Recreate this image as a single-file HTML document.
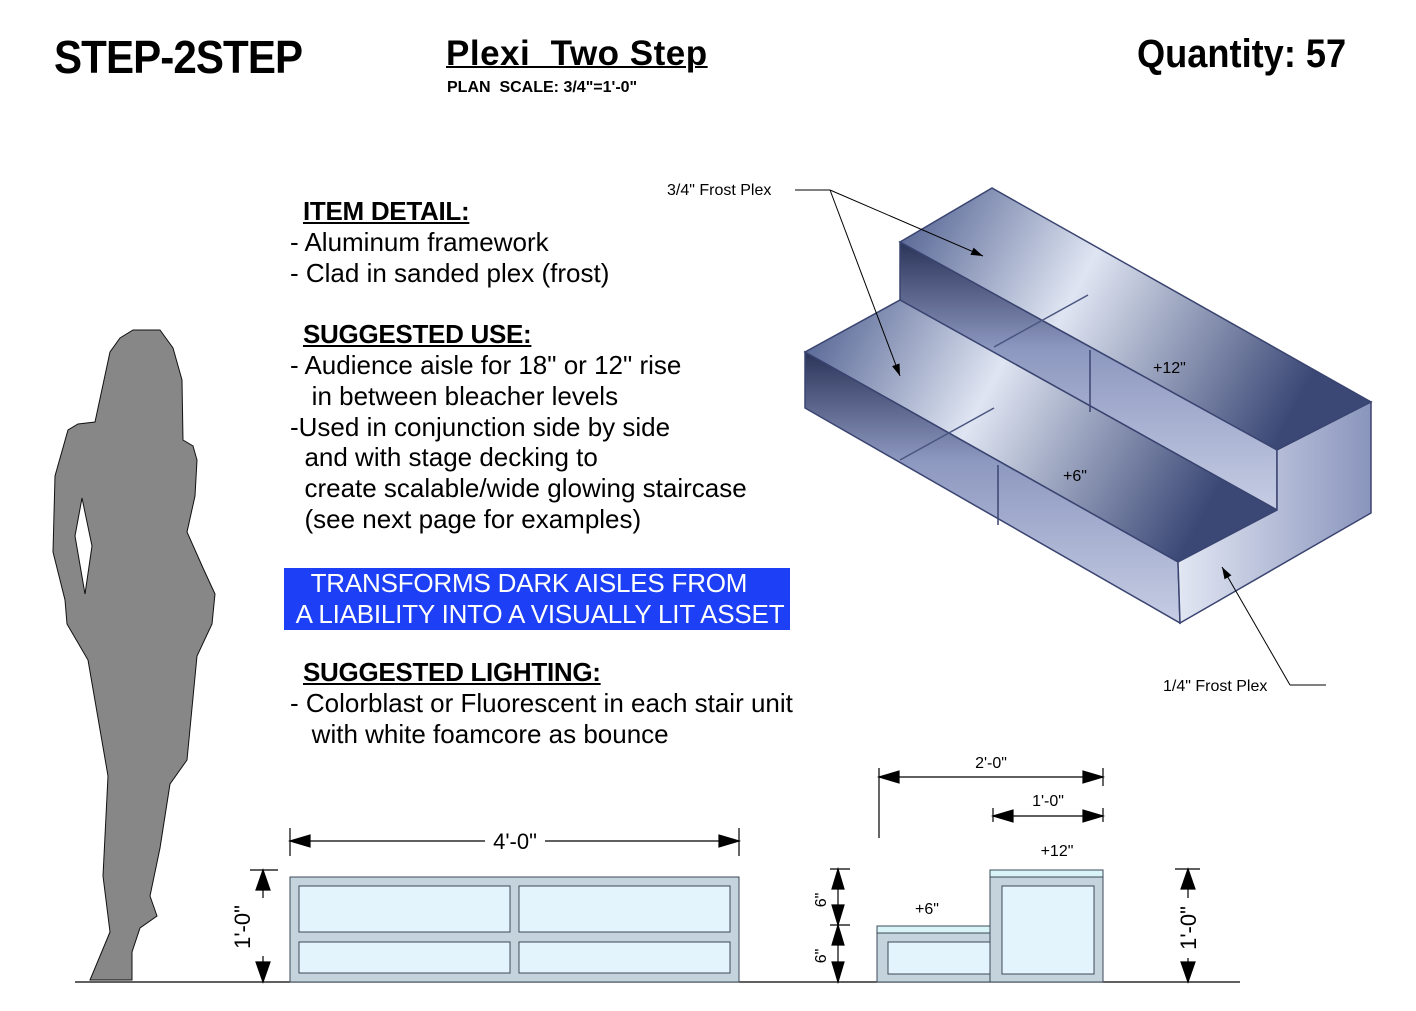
<!DOCTYPE html>
<html><head><meta charset="utf-8"><style>
body{margin:0;width:1416px;height:1011px;background:#fff;overflow:hidden;position:relative;font-family:"Liberation Sans",sans-serif}
.t{position:absolute;white-space:pre;color:#000}
.n{font-family:"Liberation Sans Narrow","Liberation Sans",sans-serif;font-weight:bold}
.b{font-size:26px;line-height:30.8px}
.u{font-weight:bold;text-decoration:underline;margin-left:13px;letter-spacing:-0.3px}
</style></head><body>
<div class="t n" style="left:54px;top:30px;font-size:46px;letter-spacing:-1px;transform:scaleX(0.915);transform-origin:left">STEP-2STEP</div>
<div class="t n" style="left:446px;top:34px;font-size:35px;letter-spacing:0.5px;text-decoration:underline;text-decoration-thickness:2px">Plexi  Two Step</div>
<div class="t n" style="left:447px;top:79px;font-size:16px">PLAN  SCALE: 3/4"=1'-0"</div>
<div class="t n" style="left:1137px;top:32px;font-size:40px;transform:scaleX(0.905);transform-origin:left">Quantity: 57</div>

<div class="t b" style="left:290px;top:196px"><span class="u">ITEM DETAIL:</span>
- Aluminum framework
- Clad in sanded plex (frost)

<span class="u">SUGGESTED USE:</span>
- Audience aisle for 18" or 12" rise
   in between bleacher levels
-Used in conjunction side by side
  and with stage decking to
  create scalable/wide glowing staircase
  (see next page for examples)</div>
<div class="t" style="left:284px;top:568px;width:506px;height:62px;background:#1d3ff5"></div>
<div class="t b" style="left:290px;top:568px;color:#fff;letter-spacing:-0.2px">   TRANSFORMS DARK AISLES FROM
 A LIABILITY INTO A VISUALLY LIT ASSET</div>
<div class="t b" style="left:290px;top:657px"><span class="u">SUGGESTED LIGHTING:</span>
- Colorblast or Fluorescent in each stair unit
   with white foamcore as bounce</div>

<svg width="1416" height="1011" style="position:absolute;left:0;top:0" font-family="Liberation Sans, sans-serif">
<defs>
<linearGradient id="g1" x1="0" y1="0" x2="1" y2="0.3"><stop offset="0" stop-color="#4a5a8c"/><stop offset="0.45" stop-color="#dfe5f2"/><stop offset="1" stop-color="#3b4876"/></linearGradient>
<linearGradient id="g2" x1="0" y1="0" x2="0" y2="1"><stop offset="0" stop-color="#2a3358"/><stop offset="0.4" stop-color="#8d98c0"/><stop offset="1" stop-color="#c6cde4"/></linearGradient>
<linearGradient id="g3" x1="0" y1="0" x2="1" y2="0"><stop offset="0" stop-color="#e2e7f3"/><stop offset="1" stop-color="#8a95bd"/></linearGradient>
<marker id="a" markerWidth="12" markerHeight="8" refX="12" refY="4" orient="auto" markerUnits="userSpaceOnUse"><path d="M0,0 L12,4 L0,8z"/></marker>
</defs>
<path d="M133,330 L160,330 L173,348 L182,380 L183,440 L193,446 L197,460 L195,496 L187,532 L203,568 L215,594 L212,624 L197,656 L187,760 L170,784 L160,848 L150,896 L157,916 L140,928 L132,952 L132,980 L90,980 L110,932 L103,876 L108,776 L88,660 L67,624 L65,600 L53,552 L55,476 L68,430 L78,424 L95,422 L110,352 L120,338Z M82,498 L92,546 L85,594 L75,536Z" fill="#878787" fill-rule="evenodd" stroke="#111" stroke-width="1"/>
<line x1="75" y1="982" x2="1240" y2="982" stroke="#000" stroke-width="1.2"/>
<g stroke="#3a4470" stroke-width="1.5">
<polygon points="900,242 992,188 1371,402 1277,450" fill="url(#g1)"/>
<polygon points="900,242 1277,450 1277,510 900,300" fill="url(#g2)"/>
<polygon points="805,352 900,300 1277,510 1178,562" fill="url(#g1)"/>
<polygon points="805,352 1178,562 1180,623 805,408" fill="url(#g2)"/>
<polygon points="1178,562 1277,510 1277,450 1371,402 1371,513 1180,623" fill="url(#g3)"/>
<line x1="1088" y1="295" x2="994" y2="347" stroke="#4a5580"/>
<line x1="1090" y1="350" x2="1090" y2="412"/>
<line x1="994" y1="408" x2="900" y2="460" stroke="#4a5580"/>
<line x1="998" y1="465" x2="998" y2="525"/>
</g>
<text x="1153" y="373" font-size="16">+12"</text>
<text x="1063" y="481" font-size="16">+6"</text>
<text x="667" y="195" font-size="16">3/4" Frost Plex</text>
<polyline points="795,190 830,190" fill="none" stroke="#000"/>
<line x1="830" y1="190" x2="983" y2="256" stroke="#000" marker-end="url(#a)"/>
<line x1="830" y1="190" x2="900" y2="376" stroke="#000" marker-end="url(#a)"/>
<text x="1163" y="691" font-size="16">1/4" Frost Plex</text>
<line x1="1290" y1="685" x2="1326" y2="685" stroke="#000"/>
<line x1="1290" y1="685" x2="1222" y2="567" stroke="#000" marker-end="url(#a)"/>
<g stroke="#3c4a58" stroke-width="1">
<rect x="290" y="877" width="449" height="105" fill="#c5d3dd"/>
<rect x="299" y="886" width="211" height="46" fill="#e3f4fc"/>
<rect x="519" y="886" width="211" height="46" fill="#e3f4fc"/>
<rect x="299" y="942" width="211" height="31" fill="#e3f4fc"/>
<rect x="519" y="942" width="211" height="31" fill="#e3f4fc"/>
</g>
<g stroke="#000" stroke-width="1.2">
<line x1="290" y1="828" x2="290" y2="856"/><line x1="739" y1="828" x2="739" y2="856"/>
<line x1="290" y1="841" x2="485" y2="841"/>
<line x1="545" y1="841" x2="739" y2="841"/>
<polygon points="290,841 310,835 310,847" fill="#000"/><polygon points="739,841 719,835 719,847" fill="#000"/>
</g>
<text x="515" y="849" font-size="22" text-anchor="middle">4'-0"</text>
<g stroke="#000" stroke-width="1.2">
<line x1="250" y1="870" x2="278" y2="870"/>
<line x1="263" y1="870" x2="263" y2="982"/>
<polygon points="263,870 256,890 270,890" fill="#000"/>
<polygon points="263,982 256,962 270,962" fill="#000"/>
</g>
<rect x="252" y="898" width="22" height="58" fill="#fff"/>
<text transform="translate(250,927) rotate(-90)" font-size="22" text-anchor="middle">1'-0"</text>
<g stroke="#3c4a58" stroke-width="1">
<rect x="877" y="926" width="116" height="56" fill="#c5d3dd"/>
<rect x="877" y="926" width="116" height="7" fill="#d8f4f6"/>
<rect x="888" y="942" width="105" height="32" fill="#e3f4fc"/>
<rect x="990" y="870" width="113" height="112" fill="#c5d3dd"/>
<rect x="990" y="870" width="113" height="7" fill="#d8f4f6"/>
<rect x="1002" y="886" width="92" height="88" fill="#e3f4fc"/>
</g>
<text x="927" y="914" font-size="16" text-anchor="middle">+6"</text>
<text x="1057" y="856" font-size="16" text-anchor="middle">+12"</text>
<g stroke="#000" stroke-width="1.2">
<line x1="879" y1="768" x2="879" y2="838"/><line x1="1103" y1="768" x2="1103" y2="786"/>
<line x1="879" y1="777" x2="1103" y2="777"/>
<polygon points="879,777 899,771 899,783" fill="#000"/><polygon points="1103,777 1083,771 1083,783" fill="#000"/>
<line x1="993" y1="808" x2="993" y2="822"/><line x1="1103" y1="808" x2="1103" y2="822"/>
<line x1="993" y1="816" x2="1103" y2="816"/>
<polygon points="993,816 1013,810 1013,822" fill="#000"/><polygon points="1103,816 1083,810 1083,822" fill="#000"/>
<line x1="830" y1="869" x2="850" y2="869"/><line x1="830" y1="925" x2="850" y2="925"/>
<line x1="838" y1="869" x2="838" y2="982"/>
<polygon points="838,869 832,889 844,889" fill="#000"/><polygon points="838,925 832,905 844,905" fill="#000"/>
<polygon points="838,925 832,945 844,945" fill="#000"/><polygon points="838,982 832,962 844,962" fill="#000"/>
<line x1="1175" y1="869" x2="1200" y2="869"/>
<line x1="1188" y1="869" x2="1188" y2="982"/>
<polygon points="1188,869 1181,889 1195,889" fill="#000"/><polygon points="1188,982 1181,962 1195,962" fill="#000"/>
</g>
<text x="991" y="768" font-size="16" text-anchor="middle">2'-0"</text>
<text x="1048" y="806" font-size="16" text-anchor="middle">1'-0"</text>
<rect x="812" y="890" width="16" height="22" fill="#fff"/>
<text transform="translate(826,900) rotate(-90)" font-size="16" text-anchor="middle">6"</text>
<rect x="812" y="945" width="16" height="22" fill="#fff"/>
<text transform="translate(826,956) rotate(-90)" font-size="16" text-anchor="middle">6"</text>
<rect x="1177" y="898" width="22" height="60" fill="#fff"/>
<text transform="translate(1196,928) rotate(-90)" font-size="22" text-anchor="middle">1'-0"</text>
</svg>
</body></html>
